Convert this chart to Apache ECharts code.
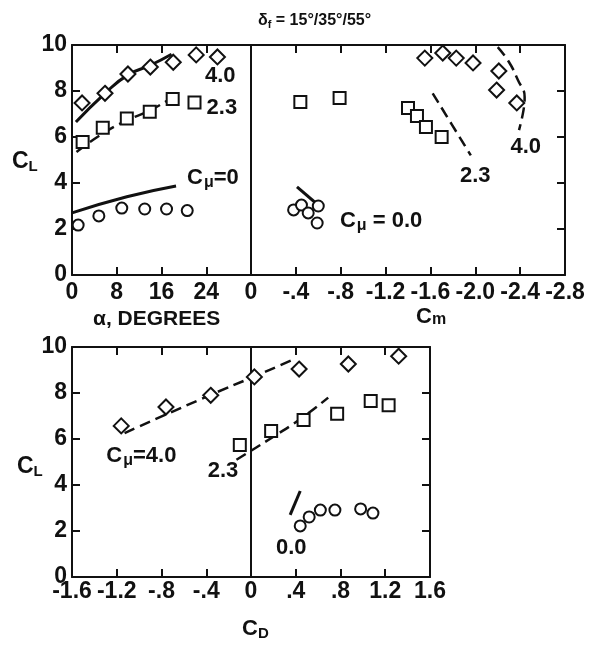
<!DOCTYPE html>
<html>
<head>
<meta charset="utf-8">
<script src="https://cdn.jsdelivr.net/npm/echarts@6/dist/echarts.min.js"></script>
<style>html,body{margin:0;padding:0;background:#fff}#c{width:592px;height:649px}</style>
</head>
<body>
<div id="c"></div>
<script>
// ---------- tick labels ----------
const alphaTickLabels = ['0', '8', '16', '24', ''];
const cmTickLabels = ['0', '-.4', '-.8', '-1.2', '-1.6', '-2.0', '-2.4', '-2.8'];
const cdTickLabels = ['-1.6', '-1.2', '-.8', '-.4', '0', '.4', '.8', '1.2', '1.6'];
const clTickLabels = ['0', '2', '4', '6', '8', '10'];

// ---------- CL vs alpha ----------
const alphaDiamonds40 = [[1.8,7.48],[5.9,7.9],[10,8.74],[14,9.04],[18.1,9.25],[22.2,9.57],[26,9.48]];
const alphaSquares23 = [[1.9,5.78],[5.5,6.4],[9.8,6.8],[13.9,7.1],[18,7.65],[21.9,7.5]];
const alphaCircles0 = [[1.1,2.17],[4.8,2.57],[8.9,2.91],[13,2.87],[16.9,2.87],[20.6,2.8]];
const alphaFit40 = [[0.7,6.65],[5.9,7.9],[10,8.7],[14,9.12],[17.8,9.6]];
const alphaFit23 = [[0.8,5.35],[5.5,6.15],[9.8,6.72],[13.9,7.15],[17.8,7.7]];
const alphaFit0 = [[0,2.7],[9.8,3.4],[18.6,3.87]];

// ---------- CL vs Cm ----------
const cmDiamonds40 = [[-1.55,9.43],[-1.71,9.65],[-1.83,9.43],[-1.98,9.22],[-2.21,8.87],[-2.19,8.04],[-2.37,7.48]];
const cmSquares23 = [[-0.44,7.52],[-0.79,7.7],[-1.40,7.26],[-1.48,6.91],[-1.56,6.43],[-1.70,6.0]];
const cmCircles0 = [[-0.38,2.83],[-0.45,3.04],[-0.51,2.7],[-0.6,3.0],[-0.59,2.26]];
const cmFit40 = [[-2.2,9.91],[-2.3,9.26],[-2.38,8.48],[-2.44,7.74],[-2.43,7.17],[-2.39,6.3]];
const cmFit23 = [[-1.62,7.9],[-1.96,5.2]];
const cmFit0 = [[-0.41,3.83],[-0.64,2.87]];

// ---------- CL vs CD ----------
const cdDiamonds40 = [[-1.16,6.57],[-0.76,7.39],[-0.36,7.9],[0.03,8.7],[0.43,9.04],[0.87,9.26],[1.32,9.6]];
const cdSquares23 = [[-0.1,5.74],[0.18,6.35],[0.47,6.83],[0.77,7.1],[1.07,7.65],[1.23,7.47]];
const cdCircles0 = [[0.44,2.22],[0.52,2.61],[0.62,2.91],[0.75,2.91],[0.98,2.96],[1.09,2.78]];
const cdFit40 = [[-1.13,6.26],[-0.36,7.92],[0.03,8.72],[0.4,9.5]];
const cdFit23 = [[-0.13,5.1],[0.2,6.1],[0.45,6.9],[0.69,7.8]];
const cdFit0 = [[0.35,2.7],[0.44,3.74]];

// ---------- annotations ----------
const alphaNotes = [[26.5,8.65,'4.0'],[26.8,7.26,'2.3'],[25.2,4.2,'Cμ=0']];
const cmNotes = [[-2.45,5.57,'4.0'],[-2.0,4.3,'2.3'],[-1.16,2.35,'Cμ = 0.0']];
const cdNotes = [[-0.98,5.26,'Cμ=4.0'],[-0.25,4.6,'2.3'],[0.36,1.26,'0.0']];

const FONT = "'Liberation Sans', Arial, sans-serif";
const BLACK = '#111';

function labelFmt(arr, min, step) {
  return v => { const i = Math.round((v - min) / step); return arr[i] !== undefined ? arr[i] : ''; };
}
const tickStyle = { show: true, inside: true, length: 8, lineStyle: { color: BLACK, width: 2 } };
const lineStyle = { show: true, onZero: false, lineStyle: { color: BLACK, width: 2 } };
const lblStyle = { fontFamily: FONT, fontWeight: 'bold', fontSize: 23, color: BLACK };

function xAx(grid, pos, min, max, step, labels, inverse, margin) {
  return {
    type: 'value', gridIndex: grid, position: pos, min, max, interval: step, inverse: !!inverse,
    axisLine: lineStyle, axisTick: tickStyle, splitLine: { show: false },
    axisLabel: labels ? Object.assign({ show: true, margin: margin, formatter: labelFmt(labels, min, step), showMinLabel: true, showMaxLabel: true, hideOverlap: false }, lblStyle) : { show: false }
  };
}
function yAx(grid, pos, labels, ticks) {
  return {
    type: 'value', gridIndex: grid, position: pos, min: 0, max: 10, interval: 2,
    axisLine: lineStyle, axisTick: ticks ? tickStyle : { show: false }, splitLine: { show: false },
    axisLabel: labels ? Object.assign({ show: true, margin: 5, formatter: labelFmt(labels, 0, 2), showMinLabel: true, showMaxLabel: true }, lblStyle) : { show: false }
  };
}

const noBorder = { textBorderWidth: 0, textBorderColor: 'transparent', textShadowBlur: 0 };
const richSub = {
  c: Object.assign({ fontFamily: FONT, fontWeight: 'bold', fontSize: 22, color: BLACK }, noBorder),
  s: Object.assign({ fontFamily: FONT, fontWeight: 'bold', fontSize: 16, color: BLACK, padding: [9, 0, 0, 1] }, noBorder),
  t: Object.assign({ fontFamily: FONT, fontWeight: 'bold', fontSize: 22, color: BLACK }, noBorder)
};
function noteText(t) {
  if (t.indexOf('Cμ') === 0) return '{c|C}{s|μ}{t|' + t.slice(2) + '}';
  return '{t|' + t + '}';
}

function scatter(x, y, data, symbol, size) {
  return {
    type: 'scatter', xAxisIndex: x, yAxisIndex: y, data, symbol, symbolSize: size,
    itemStyle: { color: '#fff', borderColor: BLACK, borderWidth: 2, opacity: 1 }, z: 5, silent: true
  };
}
function fit(x, y, data, dashed) {
  return {
    type: 'line', xAxisIndex: x, yAxisIndex: y, data, smooth: true, symbol: 'none', silent: true,
    lineStyle: { color: BLACK, width: dashed ? 2.5 : 3, type: dashed ? [11, 6] : 'solid' }, z: 3
  };
}
function notes(x, y, arr) {
  return {
    type: 'scatter', xAxisIndex: x, yAxisIndex: y, symbolSize: 0, silent: true,
    itemStyle: { color: BLACK, opacity: 1 },
    data: arr.map(a => ({ value: [a[0], a[1]], name: a[2] })),
    label: Object.assign({ show: true, position: 'inside', color: BLACK, opacity: 1, formatter: p => noteText(p.name), rich: richSub }, noBorder)
  };
}

const chart = echarts.init(document.getElementById('c'), null, { renderer: 'canvas' });
chart.setOption({
  animation: false,
  backgroundColor: '#fff',
  grid: [
    { left: 72, top: 45, width: 179, height: 230, containLabel: false, outerBoundsMode: 'none' },
    { left: 251, top: 45, width: 314, height: 230, containLabel: false, outerBoundsMode: 'none' },
    { left: 72, top: 347, width: 358, height: 230, containLabel: false, outerBoundsMode: 'none' }
  ],
  xAxis: [
    xAx(0, 'bottom', 0, 32, 8, alphaTickLabels, false, 6),
    xAx(0, 'top', 0, 32, 8, null),
    xAx(1, 'bottom', -2.8, 0, 0.4, cmTickLabels.slice().reverse(), true, 6),
    xAx(1, 'top', -2.8, 0, 0.4, null, true),
    xAx(2, 'bottom', -1.6, 1.6, 0.4, cdTickLabels, false, 3),
    xAx(2, 'top', -1.6, 1.6, 0.4, null)
  ],
  yAxis: [
    yAx(0, 'left', clTickLabels, true),
    yAx(0, 'right', null, false),
    yAx(1, 'left', null, false),
    yAx(1, 'right', null, true),
    yAx(2, 'left', clTickLabels, true),
    yAx(2, 'right', null, true)
  ],
  graphic: [
    { type: 'text', left: 258, top: 13, style: { rich: {
        d: { fontFamily: FONT, fontWeight: 'bold', fontSize: 16, fill: BLACK },
        f: { fontFamily: FONT, fontWeight: 'bold', fontSize: 11, fill: BLACK, padding: [8, 0, 0, 0] },
        r: { fontFamily: FONT, fontWeight: 'bold', fontSize: 16, fill: BLACK } },
      text: '{d|δ}{f|f}{r| = 15°/35°/55°}' } },
    { type: 'text', left: 93, top: 309, style: { text: 'α, DEGREES', fontFamily: FONT, fontWeight: 'bold', fontSize: 21, fill: BLACK } },
    { type: 'text', left: 416, top: 306, style: { rich: {
        c: { fontFamily: FONT, fontWeight: 'bold', fontSize: 22, fill: BLACK },
        s: { fontFamily: FONT, fontWeight: 'bold', fontSize: 16, fill: BLACK, padding: [6, 0, 0, 0] } },
      text: '{c|C}{s|m}' } },
    { type: 'text', left: 242, top: 618, style: { rich: {
        c: { fontFamily: FONT, fontWeight: 'bold', fontSize: 22, fill: BLACK },
        s: { fontFamily: FONT, fontWeight: 'bold', fontSize: 15, fill: BLACK, padding: [9, 0, 0, 0] } },
      text: '{c|C}{s|D}' } },
    { type: 'text', left: 12, top: 150, style: { rich: {
        c: { fontFamily: FONT, fontWeight: 'bold', fontSize: 23, fill: BLACK },
        s: { fontFamily: FONT, fontWeight: 'bold', fontSize: 15, fill: BLACK, padding: [10, 0, 0, 0] } },
      text: '{c|C}{s|L}' } },
    { type: 'text', left: 17, top: 455, style: { rich: {
        c: { fontFamily: FONT, fontWeight: 'bold', fontSize: 23, fill: BLACK },
        s: { fontFamily: FONT, fontWeight: 'bold', fontSize: 15, fill: BLACK, padding: [10, 0, 0, 0] } },
      text: '{c|C}{s|L}' } }
  ],
  series: [
    fit(0, 0, alphaFit40, false), fit(0, 0, alphaFit23, true), fit(0, 0, alphaFit0, false),
    scatter(0, 0, alphaDiamonds40, 'diamond', 15), scatter(0, 0, alphaSquares23, 'rect', 12), scatter(0, 0, alphaCircles0, 'circle', 11),
    notes(0, 0, alphaNotes),

    fit(2, 2, cmFit40, true), fit(2, 2, cmFit23, true), fit(2, 2, cmFit0, false),
    scatter(2, 2, cmDiamonds40, 'diamond', 15), scatter(2, 2, cmSquares23, 'rect', 12), scatter(2, 2, cmCircles0, 'circle', 11),
    notes(2, 2, cmNotes),

    Object.assign(fit(4, 4, cdFit40, true), {
      markLine: { silent: true, symbol: 'none', label: { show: false },
        lineStyle: { color: BLACK, width: 2, type: 'solid' }, data: [{ xAxis: 0 }] } }),
    fit(4, 4, cdFit23, true), fit(4, 4, cdFit0, false),
    scatter(4, 4, cdDiamonds40, 'diamond', 15), scatter(4, 4, cdSquares23, 'rect', 12), scatter(4, 4, cdCircles0, 'circle', 11),
    notes(4, 4, cdNotes)
  ]
});
</script>
</body>
</html>
